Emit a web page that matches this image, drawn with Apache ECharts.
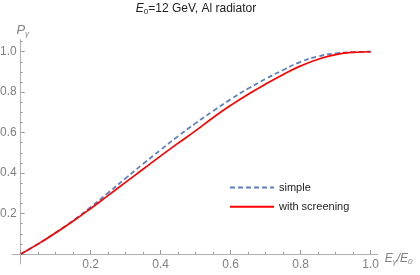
<!DOCTYPE html>
<html>
<head>
<meta charset="utf-8">
<script src="https://cdn.jsdelivr.net/npm/echarts@6/dist/echarts.min.js"></script>
<style>html,body{margin:0;padding:0;background:#fff}#c{width:420px;height:275px}</style>
</head>
<body>
<div id="c"></div>
<script>
var xValues = [0,0.05,0.1,0.15,0.2,0.25,0.3,0.35,0.4,0.45,0.5,0.55,0.6,0.65,0.7,0.75,0.8,0.85,0.9,0.95,1.0];
var simple = [0,0.05,0.106,0.166,0.232,0.303,0.375,0.446,0.515,0.583,0.647,0.707,0.765,0.818,0.866,0.91,0.95,0.977,0.992,0.998,1.0];
var screening = [0,0.05,0.105,0.163,0.225,0.29,0.355,0.42,0.485,0.548,0.61,0.675,0.735,0.79,0.84,0.888,0.93,0.963,0.986,0.997,1.0];
var xTickLabels = [0.2,0.4,0.6,0.8,1.0];
var yTickLabels = [0.2,0.4,0.6,0.8,1.0];

function pairs(xs, ys){ return xs.map(function(x,i){ return [x, ys[i]]; }); }

var axisGray = '#b0b0b0';
var tickGray = '#9a9a9a';
var labelGray = '#808080';
var font = 'Liberation Sans, Arial, sans-serif';
var clear = 'rgba(0,0,0,0)';

// main axes (grid 0): axis lines extend a little beyond the data box
var xMain = {
  type: 'value', min: -0.025, max: 1.02, gridIndex: 0,
  splitLine: {show: false},
  axisLine: {show: true, onZero: true, lineStyle: {color: axisGray, width: 1}},
  axisTick: {show: false},
  axisLabel: {show: false},
  name: '{i|E}{s|γ}{i|/}{i|E}{s|0}',
  nameLocation: 'end', nameGap: 7,
  nameTextStyle: {color: labelGray, fontFamily: font, padding: [10,0,0,0], rich: {
    i: {fontStyle: 'italic', fontSize: 12, color: labelGray, fontFamily: font},
    s: {fontStyle: 'italic', fontSize: 8, color: labelGray, fontFamily: font, verticalAlign: 'bottom', padding: [6,0,0,0]}
  }}
};
var yMain = {
  type: 'value', min: -0.05, max: 1.06, gridIndex: 0,
  splitLine: {show: false},
  axisLine: {show: true, onZero: true, lineStyle: {color: axisGray, width: 1}},
  axisTick: {show: false},
  axisLabel: {show: false},
  name: '{i|P}{s|γ}',
  nameLocation: 'end', nameGap: 2,
  nameTextStyle: {color: labelGray, fontFamily: font, padding: [0,0,0,4], rich: {
    i: {fontStyle: 'italic', fontSize: 13, color: labelGray, fontFamily: font},
    s: {fontStyle: 'italic', fontSize: 8, color: labelGray, fontFamily: font, verticalAlign: 'bottom', padding: [7,0,0,0]}
  }}
};

// tick + label axes (grid 1): exactly 0..1 so that intervals start at 0
function tickAxis(extra){
  var a = {
    type: 'value', min: 0, max: 1, interval: 0.2, gridIndex: 1,
    splitLine: {show: false},
    axisLine: {show: true, onZero: false, lineStyle: {color: clear}},
    axisTick: {show: true, inside: true, length: 4, lineStyle: {color: tickGray}},
    minorTick: {show: true, splitNumber: 4, length: 2, lineStyle: {color: tickGray}}
  };
  for (var k in extra) a[k] = extra[k];
  return a;
}

var chart = echarts.init(document.getElementById('c'), null, {renderer: 'canvas'});
chart.setOption({
  animation: false,
  backgroundColor: '#fff',
  title: {
    text: '{i|E}{s|0}{t|=12 GeV, Al radiator}',
    left: 191, top: -3, textAlign: 'center',
    textStyle: {fontFamily: font, fontSize: 12, fontWeight: 'normal', color: '#222', rich: {
      i: {fontStyle: 'italic', fontSize: 12, color: '#222', fontFamily: font},
      s: {fontSize: 8, color: '#222', fontFamily: font, verticalAlign: 'bottom', padding: [6,0,0,0]},
      t: {fontSize: 12, color: '#222', fontFamily: font}
    }}
  },
  grid: [
    {left: 12, right: 42.3, top: 39.6, bottom: 10.9, outerBoundsMode: 'none', containLabel: false},
    {left: 20.7, right: 49.3, top: 51.7, bottom: 21, outerBoundsMode: 'none', containLabel: false},
    {left: 20.7, right: 49.3, top: 31.5, bottom: 223.3, outerBoundsMode: 'none', containLabel: false}
  ],
  legend: {
    orient: 'vertical', left: 224, top: 177,
    itemWidth: 44, itemHeight: 14, itemGap: 8,
    itemStyle: {opacity: 0},
    textStyle: {fontSize: 11, color: '#222', fontFamily: font},
    data: ['simple', 'with screening']
  },
  xAxis: [
    xMain,
    tickAxis({position: 'bottom',
      axisLabel: {show: true, customValues: xTickLabels, margin: 5, color: labelGray, fontSize: 12, fontFamily: font,
        formatter: function(v){ return v.toFixed(1); }}}),
    {type: 'value', gridIndex: 2, min: 0, max: 1, show: false}
  ],
  yAxis: [
    yMain,
    tickAxis({position: 'left',
      axisLabel: {show: true, customValues: yTickLabels, margin: 4, color: labelGray, fontSize: 12, fontFamily: font,
        formatter: function(v){ return v.toFixed(1); }}}),
    {type: 'value', gridIndex: 2, min: 1.0, max: 1.1, interval: 0.1, position: 'left',
     splitLine: {show: false}, axisLabel: {show: false},
     axisLine: {show: true, onZero: false, lineStyle: {color: clear}},
     axisTick: {show: true, inside: true, length: 0, lineStyle: {color: clear}},
     minorTick: {show: true, splitNumber: 2, length: 2, lineStyle: {color: tickGray}}}
  ],
  series: [
    {name: 'simple', type: 'line', data: pairs(xValues, simple), smooth: true, symbol: 'none',
     xAxisIndex: 0, yAxisIndex: 0,
     lineStyle: {color: '#5f7fbd', width: 1.8, type: [5, 3]}, itemStyle: {color: '#5f7fbd'}, z: 2},
    {name: 'with screening', type: 'line', data: pairs(xValues, screening), smooth: true, symbol: 'none',
     xAxisIndex: 0, yAxisIndex: 0,
     lineStyle: {color: '#ff0000', width: 1.7}, itemStyle: {color: '#ff0000'}, z: 3}
  ]
});
</script>
</body>
</html>
